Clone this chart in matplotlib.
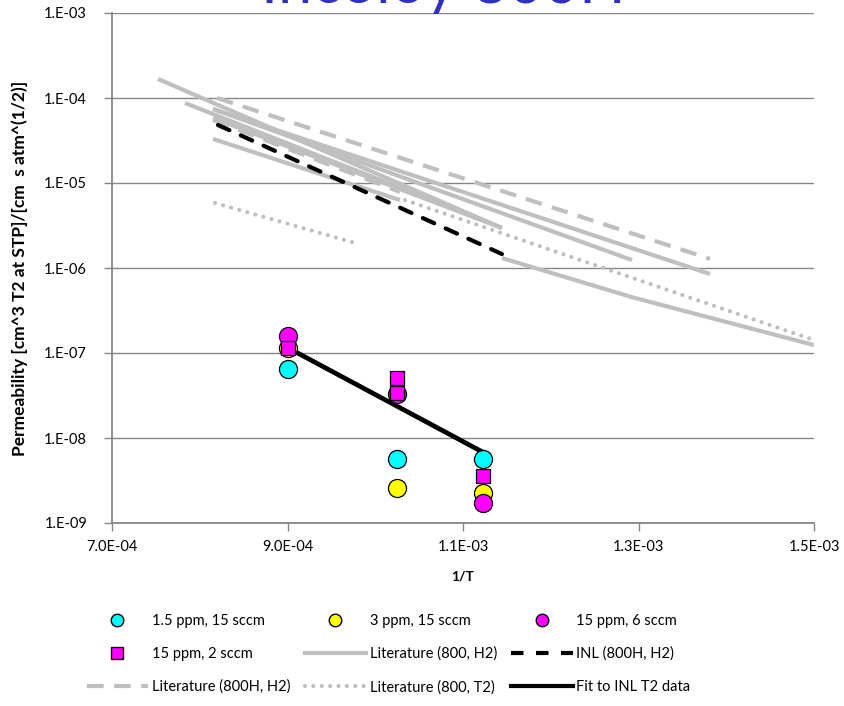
import matplotlib
matplotlib.use("Agg")
import matplotlib.pyplot as plt
from matplotlib.lines import Line2D
from matplotlib.ticker import FixedLocator, NullLocator

plt.rcParams["font.family"] = ["Lato", "DejaVu Sans"]

# INL T2 measurements (1/T, permeability)
t_x = [9.006e-4, 1.0248e-3, 1.1228e-3]
cyan_y = [6.5e-8, 5.7e-9, 5.7e-9]        # 1.5 ppm, 15 sccm
yellow_y = [1.14e-7, 2.6e-9, 2.25e-9]    # 3 ppm, 15 sccm
magenta_y = [1.58e-7, 3.3e-8, 1.72e-9]   # 15 ppm, 6 sccm
square_x = [9.006e-4, 1.0248e-3, 1.0248e-3, 1.1228e-3]
square_y = [1.14e-7, 5.1e-8, 3.4e-8, 3.6e-9]  # 15 ppm, 2 sccm

fit_x = [9.006e-4, 1.1228e-3]
fit_y = [1.15e-7, 6.8e-9]

# literature, 800 with H2 (solid grey)
lit_h2_x = [
    [7.524e-4, 1.1444e-3],
    [7.832e-4, 1.1444e-3],
    [8.151e-4, 1.3815e-3],
    [8.151e-4, 1.2926e-3],
    [8.151e-4, 1.1444e-3],
    [8.151e-4, 1.0282e-3],
    [1.1444e-3, 1.2938e-3, 1.5e-3],
]
lit_h2_y = [
    [1.675e-4, 2.96e-6],
    [8.73e-5, 2.96e-6],
    [7.43e-5, 8.5e-7],
    [7.43e-5, 1.24e-6],
    [5.82e-5, 2.96e-6],
    [3.30e-5, 6.3e-6],
    [1.31e-6, 4.5e-7, 1.24e-7],
]

# literature, 800H with H2 (dashed grey)
lit_h_x = [[8.197e-4, 1.3815e-3], [8.151e-4, 1.0282e-3]]
lit_h_y = [[1.0e-4, 1.28e-6], [5.51e-5, 7.84e-6]]

# literature, 800 with T2 (dotted grey)
lit_t2_x = [[8.174e-4, 9.769e-4], [1.0339e-3, 1.5e-3]]
lit_t2_y = [[5.82e-6, 1.97e-6], [6.3e-6, 1.42e-7]]

# INL 800H with H2 (black dashed)
inl_x = [8.208e-4, 1.1444e-3]
inl_y = [4.81e-5, 1.46e-6]

x_ticks = [7e-4, 9e-4, 1.1e-3, 1.3e-3, 1.5e-3]
x_labels = ["7.0E-04", "9.0E-04", "1.1E-03", "1.3E-03", "1.5E-03"]
y_ticks = [1e-9, 1e-8, 1e-7, 1e-6, 1e-5, 1e-4, 1e-3]
y_labels = ["1.E-09", "1.E-08", "1.E-07", "1.E-06", "1.E-05", "1.E-04", "1.E-03"]

grey = "#BFBFBF"
axis_grey = "#868686"

fig = plt.figure(figsize=(8.44, 7.06), dpi=100)
ax = fig.add_axes([112 / 844, 1 - 523 / 706, 702 / 844, 510 / 706])
ax.set_yscale("log")

for xs, ys in zip(lit_h2_x, lit_h2_y):
    ax.plot(xs, ys, color=grey, lw=3, solid_capstyle="butt", zorder=2)
for xs, ys in zip(lit_h_x, lit_h_y):
    ax.plot(xs, ys, color=grey, lw=3, ls=(0, (4, 2.5)), zorder=2)
for xs, ys in zip(lit_t2_x, lit_t2_y):
    ax.plot(xs, ys, color=grey, lw=3, ls=(0, (0.01, 2.0)), dash_capstyle="round", zorder=2)
ax.plot(inl_x, inl_y, color="black", lw=3, ls=(0, (3, 3)), dash_capstyle="round", zorder=3)
ax.plot(fit_x, fit_y, color="black", lw=3.4, solid_capstyle="butt", zorder=3)

mk = dict(ls="none", markeredgecolor="black", markeredgewidth=0.9, zorder=5)
ax.plot(t_x, cyan_y, marker="o", ms=13, color="#00FFFF", **mk)
ax.plot(t_x, yellow_y, marker="o", ms=13, color="#FFFF00", **mk)
ax.plot(t_x, magenta_y, marker="o", ms=13, color="#FF00FF", **mk)
ax.plot(square_x, square_y, marker="s", ms=10, color="#FF00FF", **mk)

ax.set_xlim(7e-4, 1.5e-3)
ax.set_ylim(1e-9, 1e-3)
ax.xaxis.set_major_locator(FixedLocator(x_ticks))
ax.set_xticklabels(x_labels)
ax.yaxis.set_major_locator(FixedLocator(y_ticks))
ax.yaxis.set_minor_locator(NullLocator())
ax.set_yticklabels(y_labels)
ax.grid(axis="y", color=axis_grey, lw=1)
ax.set_axisbelow(True)
for s in ["top", "right"]:
    ax.spines[s].set_visible(False)
for s in ["left", "bottom"]:
    ax.spines[s].set_color(axis_grey)
    ax.spines[s].set_linewidth(1.3)
ax.tick_params(direction="out", length=6, width=1, color=axis_grey, labelsize=10.5, labelcolor="black")
ax.tick_params(axis="x", pad=6)
ax.tick_params(axis="y", pad=12)

ax.set_xlabel("1/T", fontsize=10, fontweight="bold", labelpad=12)
ax.set_ylabel("Permeability [cm^3 T2 at STP]/[cm  s atm^(1/2)]", fontsize=12.5, fontweight="bold")
ax.yaxis.set_label_coords((28 - 112) / 702, 0.5)

fig.text(443 / 844, 1 - 3 / 706, "Incoloy 800H", color="#3030C0", fontsize=44,
         ha="center", va="baseline")

# legend, Excel-style row order
handles = [
    Line2D([], [], ls="none", marker="o", ms=9, color="#00FFFF", markeredgecolor="black"),
    Line2D([], [], ls="none", marker="o", ms=9, color="#FFFF00", markeredgecolor="black"),
    Line2D([], [], ls="none", marker="o", ms=9, color="#FF00FF", markeredgecolor="black"),
    Line2D([], [], ls="none", marker="s", ms=8, color="#FF00FF", markeredgecolor="black"),
    Line2D([], [], color=grey, lw=3),
    Line2D([], [], color="black", lw=3, ls=(0, (3, 3))),
    Line2D([], [], color=grey, lw=3, ls=(0, (4, 2.5))),
    Line2D([], [], color=grey, lw=3, ls=(0, (0.01, 2.0)), dash_capstyle="round"),
    Line2D([], [], color="black", lw=3),
]
labels = ["1.5 ppm, 15 sccm", "3 ppm, 15 sccm", "15 ppm, 6 sccm",
          "15 ppm, 2 sccm", "Literature (800, H2)", "INL (800H, H2)",
          "Literature (800H, H2)", "Literature (800, T2)", "Fit to INL T2 data"]
order = [0, 3, 6, 1, 4, 7, 2, 5, 8]
fig.legend([handles[i] for i in order], [labels[i] for i in order], ncol=3,
           loc="upper left", bbox_to_anchor=(78 / 844, 1 - 605 / 706), frameon=False,
           fontsize=10.5, handlelength=4.2, handletextpad=0.25, columnspacing=1.0,
           labelspacing=1.3, borderaxespad=0.2)

fig.savefig("out.png", dpi=100)
